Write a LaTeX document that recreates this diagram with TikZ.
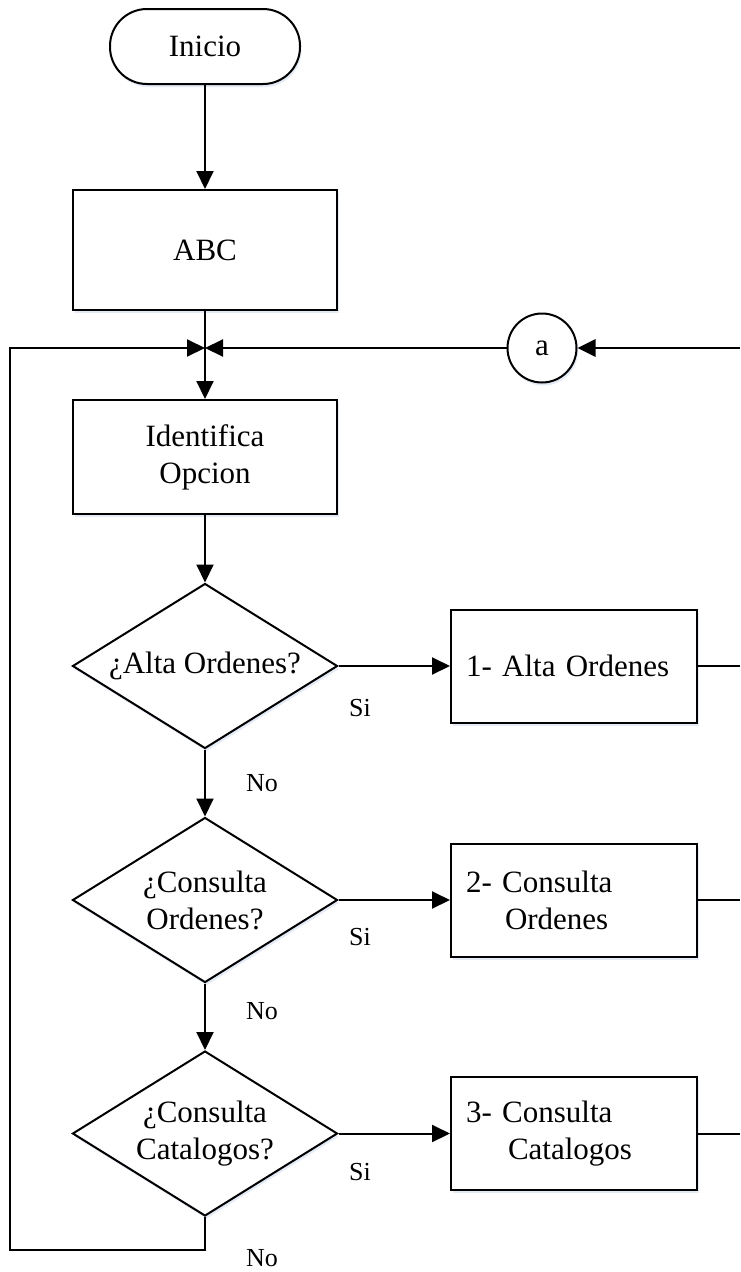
\documentclass[tikz,border=0pt]{standalone}
\usepackage{fontspec}
\setmainfont{Liberation Serif}
\usetikzlibrary{arrows.meta,shapes.geometric,shadows}
\definecolor{shadowc}{RGB}{222,230,244}
\tikzset{
  every node/.style={font=\fontsize{31}{37}\selectfont},
  shad/.style={drop shadow={shadow xshift=1.5pt,shadow yshift=-3pt,fill=shadowc,opacity=0.8}},
  termbox/.style={draw,line width=2pt,rounded corners=37pt,minimum width=190pt,minimum height=75pt,fill=white,shad},
  procbox/.style={draw,line width=2pt,minimum width=264pt,minimum height=117pt,fill=white,shad,align=center},
  optbox/.style={draw,line width=2pt,text width=216pt,inner xsep=15pt,minimum height=113pt,fill=white,shad,align=left},
  dia/.style={draw,diamond,line width=2pt,minimum width=265pt,minimum height=165pt,inner sep=0pt,fill=white,shad},
  conn/.style={draw,circle,line width=2pt,minimum size=69pt,inner sep=0pt,fill=white,shad},
  txt/.style={align=center,inner sep=0pt},
  lbl/.style={font=\fontsize{26}{30}\selectfont,inner sep=0pt},
  arr/.style={line width=2pt,-{Triangle[length=18pt,width=17pt]}},
  ln/.style={line width=2pt},
}
\begin{document}
\begin{tikzpicture}[x=1pt,y=-1pt]
\useasboundingbox (0,0) rectangle (740,1272);
% nodes
\node[termbox] (ini) at (205,46.5) {Inicio};
\node[procbox,minimum height=120pt] (abc) at (205,250) {ABC};
\node[procbox,minimum height=114pt] (idf) at (205,457) {Identifica\\Opcion};
\node[conn] (a) at (542,348) {a};
\coordinate (j) at (205,348);

\node[dia] (d1) at (205,666) {};
\node[txt] (d1t) at (d1) {¿Alta Ordenes?};
\node[dia] (d2) at (205,900) {};
\node[txt] (d2t) at (d2) {¿Consulta\\Ordenes?};
\node[dia] (d3) at (205,1133.5) {};
\node[txt] (d3t) at (d3) {¿Consulta\\Catalogos?};

\node[optbox] (b1) at (574,666) {1- Alta Ordenes};
\node[optbox] (b2) at (574,900) {2- Consulta\\\hspace*{39pt}Ordenes};
\node[optbox] (b3) at (574,1133.5) {3- Consulta\\\hspace*{42pt}Catalogos};

% labels
\node[lbl] (si1) at (360,708) {Si};
\node[lbl] (si2) at (360,937) {Si};
\node[lbl] (si3) at (360,1172) {Si};
\node[lbl] (no1) at (262,783) {No};
\node[lbl] (no2) at (262,1011) {No};
\node[lbl] (no3) at (262,1258) {No};

% coordinates
\coordinate (r0) at (740,348);
\coordinate (r1) at (740,666);
\coordinate (r2) at (740,900);
\coordinate (r3) at (740,1133.5);
\coordinate (lb) at (205,1250);
\coordinate (ll) at (10,1250);
\coordinate (lt) at (10,348);

% connectors
\draw[arr] (ini.south) -- (abc.north);
\draw[arr] (abc.south) -- (idf.north);
\draw[arr,line width=2.8pt] (r0) -- (a.east);
\draw[arr] (a.west) -- (j);
\draw[arr] (d3.south) -- (lb) -- (ll) -- (lt) -- (j);
\draw[arr] (idf.south) -- (d1.north);
\draw[arr] (d1.south) -- (d2.north);
\draw[arr] (d2.south) -- (d3.north);
\draw[arr] (d1.east) -- (b1.west);
\draw[arr] (d2.east) -- (b2.west);
\draw[arr] (d3.east) -- (b3.west);
\draw[ln] (b1.east) -- (r1);
\draw[ln] (b2.east) -- (r2);
\draw[ln] (b3.east) -- (r3);
\end{tikzpicture}
\end{document}
